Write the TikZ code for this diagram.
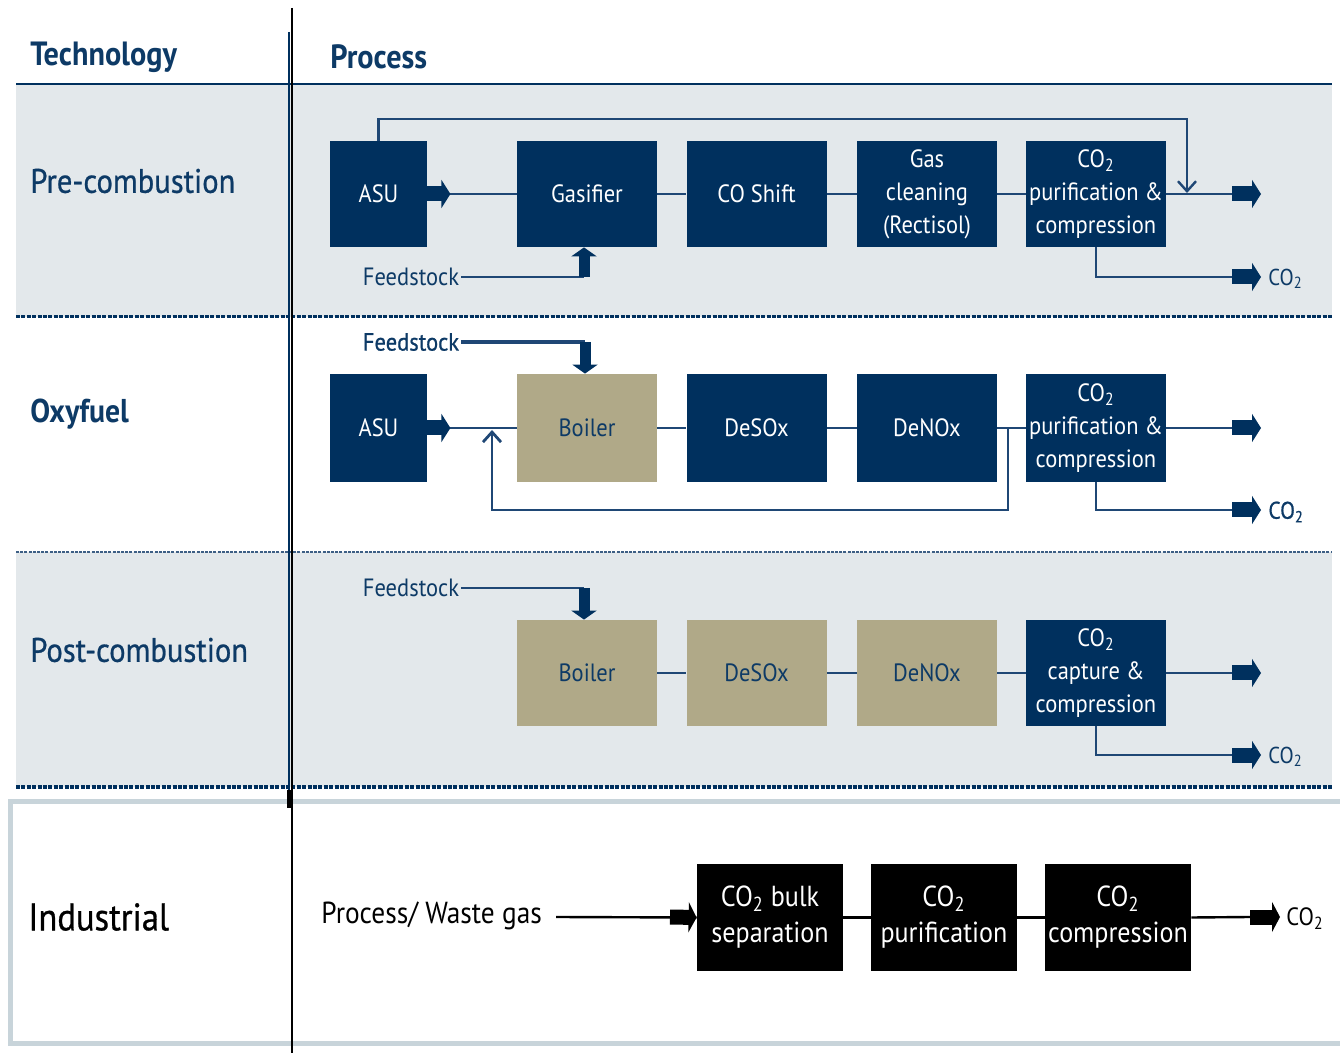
\documentclass[tikz,border=0pt]{standalone}
\usepackage{fontspec}
\setmainfont[FakeStretch=0.9]{PT Sans}
\newfontfamily\medfont[FakeStretch=0.9,FakeBold=0.7]{PT Sans}
\usetikzlibrary{arrows.meta}
\definecolor{navy}{HTML}{00305E}
\definecolor{khaki}{HTML}{B0A988}
\definecolor{band}{HTML}{E3E8EB}
\definecolor{linec}{HTML}{1F4775}
\definecolor{txtnavy}{HTML}{0D3A66}
\definecolor{indb}{HTML}{C8D4DA}
\definecolor{dotc}{HTML}{3D5F85}
\tikzset{
  box/.style={minimum width=70pt, minimum height=53pt, inner sep=0pt, align=center, font=\fontsize{12.5}{16.5}\selectfont},
  nbox/.style={box, fill=navy, text=white},
  kbox/.style={box, fill=khaki, text=txtnavy},
  ibox/.style={minimum width=73pt, minimum height=53.5pt, inner sep=0pt, align=center, fill=black, text=white, font=\fontsize{14.5}{18}\selectfont},
  conn/.style={draw=linec, line width=1.4pt},
  iconn/.style={draw=black, line width=1.2pt},
  blk/.style={draw=navy, line width=7.5pt, -{Triangle[length=4.5pt,width=14pt]}},
  blks/.style={draw=navy, line width=5.5pt, -{Triangle[length=4.5pt,width=12.5pt]}},
  iblk/.style={draw=black, line width=7.5pt, -{Triangle[length=4pt,width=15pt]}},
  barb/.style={-{Straight Barb[length=5pt,width=9pt]}},
  rowlbl/.style={anchor=west, inner sep=0pt, text=txtnavy, font=\medfont\fontsize{17}{20}\selectfont},
  headlbl/.style={anchor=west, inner sep=0pt, text=txtnavy, font=\bfseries\fontsize{16.8}{20}\selectfont},
  feed/.style={inner sep=0pt, text=txtnavy, font=\fontsize{12.5}{14}\selectfont},
  colbl/.style={anchor=west, inner sep=0pt, text=txtnavy, font=\fontsize{11.5}{13}\selectfont},
}
\begin{document}
\begin{tikzpicture}[x=0.5pt, y=-0.5pt]
\useasboundingbox (0,0) rectangle (1340,1053);
% bands
\fill[band] (16,84) rectangle (1332,317);
\fill[band] (16,552) rectangle (1332,787);
\draw[navy, line width=1pt] (16,84) -- (1332,84);
\draw[navy, line width=1.5pt, dash pattern=on 2pt off 0.7pt] (16,317) -- (1332,317);
\draw[dotc, line width=0.9pt, dash pattern=on 1.5pt off 0.6pt] (16,552) -- (1332,552);
\draw[navy, line width=1.6pt, dash pattern=on 2pt off 0.7pt] (16,787) -- (1332,787);
% industrial frame
\draw[indb, line width=2.5pt] (10,801) rectangle (1346,1043);
% column separators
\draw[navy, line width=1pt] (289,32) -- (289,790);
\draw[black, line width=1.6pt] (289,790) -- (289,808);
\draw[black, line width=1pt] (292,8) -- (292,1053);
% headers
\node[headlbl] (th) at (30,57) {Technology};
\node[headlbl] (ph) at (330,57) {Process};
% row labels
\node[rowlbl] (pre) at (30,181) {Pre-combustion};
\node[rowlbl, font=\bfseries\fontsize{16.5}{20}\selectfont] (oxy) at (30,414) {Oxyfuel};
\node[rowlbl] (post) at (30,650) {Post-combustion};
\node[anchor=west, inner sep=0pt, font=\medfont\fontsize{19.2}{22}\selectfont] (ind) at (28,917) {Industrial};

% ===== Pre-combustion =====
\node[nbox, minimum width=48.5pt] (asu1) at (378.5,194) {ASU};
\node[nbox] (gsf1) at (587,194) {Gasifier};
\node[nbox] (cos1) at (756.5,194) {CO Shift};
\node[nbox] (gcl1) at (927,194) {Gas\\cleaning\\(Rectisol)};
\node[nbox] (co1) at (1096,194) {CO\textsubscript{2}\\purification \&\\compression};
\draw[conn] (asu1.east) -- (gsf1.west);
\draw[blk] (asu1.east) -- ++(23,0);
\draw[conn] (gsf1.east) -- (cos1.west);
\draw[conn] (cos1.east) -- (gcl1.west);
\draw[conn] (gcl1.east) -- (co1.west);
\coordinate (r1) at (1232,194);
\coordinate (r1e) at (1261,194);
\draw[conn] (co1.east) -- (r1);
\draw[blk] (r1) -- (r1e);
\coordinate (l1) at (1187,119);
\coordinate (l1in) at (1187,193);
\draw[conn, line width=1.2pt, barb] (asu1.north) |- (l1) -- (l1in);
\node[feed] (fs1) at (411,277) {Feedstock};
\coordinate (f1c) at (584,277);
\draw[conn] ([xshift=1pt]fs1.east) -- (f1c);
\draw[blks] (f1c) -- (f1c |- gsf1.south);
\coordinate (o1) at (1232,277);
\coordinate (o1e) at (1261,277);
\draw[conn] (co1.south) |- (o1);
\draw[blk] (o1) -- (o1e);
\node[colbl] (c1) at (1268,279) {CO\textsubscript{2}};

% ===== Oxyfuel =====
\node[nbox, minimum width=48.5pt, minimum height=54pt] (asu2) at (378.5,428) {ASU};
\node[kbox, minimum height=54pt] (boi2) at (587,428) {Boiler};
\node[nbox, minimum height=54pt] (dso2) at (756.5,428) {DeSOx};
\node[nbox, minimum height=54pt] (dno2) at (927,428) {DeNOx};
\node[nbox, minimum height=54pt] (co2) at (1096,428) {CO\textsubscript{2}\\purification \&\\compression};
\draw[conn] (asu2.east) -- (boi2.west);
\draw[blk] (asu2.east) -- ++(23,0);
\draw[conn] (boi2.east) -- (dso2.west);
\draw[conn] (dso2.east) -- (dno2.west);
\draw[conn] (dno2.east) -- (co2.west);
\coordinate (j2) at (1008,428);
\coordinate (rl2) at (492,510);
\coordinate (rin2) at (492,430);
\draw[conn, barb] (j2) |- (rl2) -- (rin2);
\node[feed, font=\medfont\fontsize{12.5}{14}\selectfont] (fs2) at (411,342) {Feedstock};
\coordinate (f2c) at (585,342);
\draw[conn, line width=2pt] ([xshift=1pt]fs2.east) -- (f2c);
\draw[blks] (f2c) -- (f2c |- boi2.north);
\coordinate (r2) at (1232,428);
\coordinate (r2e) at (1261,428);
\draw[conn] (co2.east) -- (r2);
\draw[blk] (r2) -- (r2e);
\coordinate (o2) at (1232,510);
\coordinate (o2e) at (1261,510);
\draw[conn] (co2.south) |- (o2);
\draw[blk] (o2) -- (o2e);
\node[colbl, font=\medfont\fontsize{12}{13}\selectfont] (c2) at (1268,512) {CO\textsubscript{2}};

% ===== Post-combustion =====
\node[kbox] (boi3) at (587,673) {Boiler};
\node[kbox] (dso3) at (756.5,673) {DeSOx};
\node[kbox] (dno3) at (927,673) {DeNOx};
\node[nbox] (co3) at (1096,673) {CO\textsubscript{2}\\capture \&\\compression};
\draw[conn] (boi3.east) -- (dso3.west);
\draw[conn] (dso3.east) -- (dno3.west);
\draw[conn] (dno3.east) -- (co3.west);
\node[feed] (fs3) at (411,588) {Feedstock};
\coordinate (f3c) at (584,588);
\draw[conn] ([xshift=1pt]fs3.east) -- (f3c);
\draw[blks] (f3c) -- (f3c |- boi3.north);
\coordinate (r3) at (1232,673);
\coordinate (r3e) at (1261,673);
\draw[conn] (co3.east) -- (r3);
\draw[blk] (r3) -- (r3e);
\coordinate (o3) at (1232,755);
\coordinate (o3e) at (1261,755);
\draw[conn] (co3.south) |- (o3);
\draw[blk] (o3) -- (o3e);
\node[colbl] (c3) at (1268,757) {CO\textsubscript{2}};

% ===== Industrial =====
\node[anchor=west, inner sep=0pt, font=\fontsize{15.2}{17}\selectfont] (pw) at (321,916) {Process/ Waste gas};
\node[ibox] (ib1) at (770,917.5) {CO\textsubscript{2} bulk\\separation};
\node[ibox] (ib2) at (944,917.5) {CO\textsubscript{2}\\purification};
\node[ibox] (ib3) at (1118,917.5) {CO\textsubscript{2}\\compression};
\coordinate (pws) at (556,917);
\coordinate (pwa) at (670,917);
\draw[iconn] (pws) -- (ib1.west);
\draw[iblk] (pwa) -- (ib1.west);
\draw[iconn] (ib1.east) -- (ib2.west);
\draw[iconn] (ib2.east) -- (ib3.west);
\coordinate (ri) at (1250,917);
\coordinate (rie) at (1280,917);
\draw[iconn] (ib3.east) -- (ri);
\draw[iblk] (ri) -- (rie);
\node[anchor=west, inner sep=0pt, font=\fontsize{12.5}{14}\selectfont] (ci) at (1286,919) {CO\textsubscript{2}};
\end{tikzpicture}
\end{document}
